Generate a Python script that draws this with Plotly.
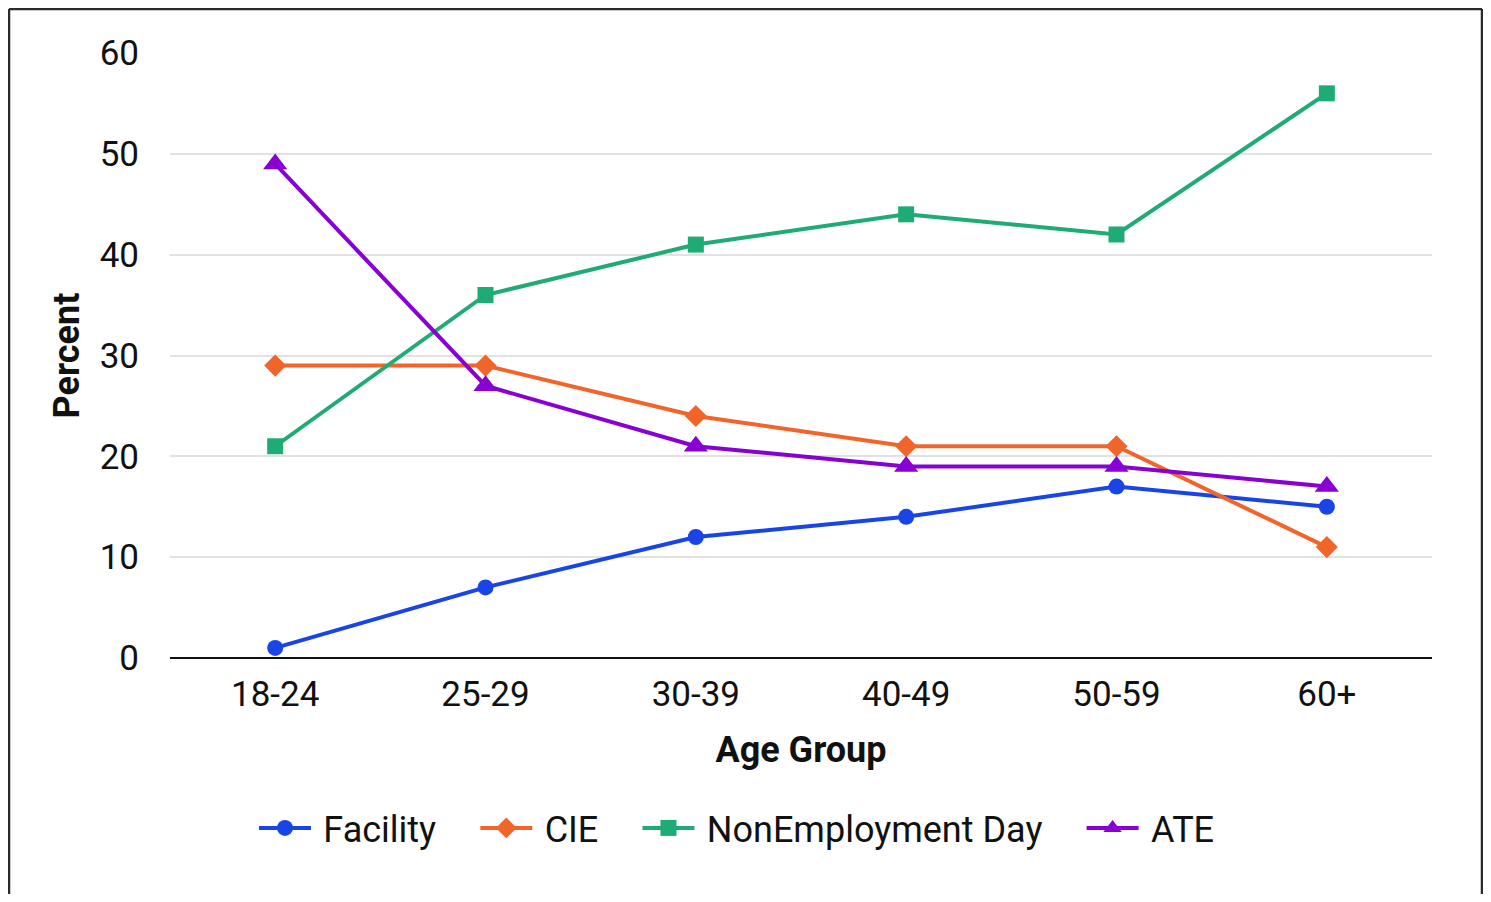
import plotly.graph_objects as go

# age groups on the x axis
age_groups = ['18-24', '25-29', '30-39', '40-49', '50-59', '60+']

# percent of people in each setting, by age group
facility = [1, 7, 12, 14, 17, 15]
cie = [29, 29, 24, 21, 21, 11]
non_employment_day = [21, 36, 41, 44, 42, 56]
ate = [49, 27, 21, 19, 19, 17]

# spacing tweaks for the legend labels
PRE = '\u2009'
POST = '\u00a0' * 3 + '\u2009'

series = [
    (PRE + 'Facility' + POST, facility, '#1a45e6', 'circle', 16),
    (PRE + 'CIE' + POST, cie, '#f2652a', 'diamond', 17),
    (PRE + 'NonEmployment Day' + POST, non_employment_day, '#1eab74', 'square', 16),
    (PRE + 'ATE', ate, '#8800d2', 'triangle-up', 21),
]

FONT = 'Roboto, Arial, sans-serif'
INK = '#111111'

fig = go.Figure()
for name, vals, color, symbol, size in series:
    fig.add_trace(go.Scatter(
        x=age_groups, y=vals, name=name, mode='lines+markers',
        line=dict(color=color, width=4),
        marker=dict(symbol=symbol, size=size, color=color),
    ))

# page has an 8px body margin, so the figure is a bit smaller than the window
W, H = 1475, 886
L, T = 162, 45
R, B = W - 1424, H - 650
pw, ph = W - L - R, H - T - B


def px_x(p):
    return (p - L) / pw


def px_y(p):
    return (H - B - p) / ph


# outer frame: left, top and right edges (bottom falls off the page)
frame = dict(color='#2b2a33', width=2.5)
for x0, y0, x1, y1 in [(1, 900, 1, 1), (1, 1, 1474, 1), (1474, 1, 1474, 900)]:
    fig.add_shape(type='line', xref='paper', yref='paper',
                  x0=px_x(x0), y0=px_y(y0), x1=px_x(x1), y1=px_y(y1), line=frame)

fig.update_layout(
    width=W, height=H,
    margin=dict(l=L, r=R, t=T, b=B),
    paper_bgcolor='white', plot_bgcolor='white',
    font=dict(family=FONT, size=35, color=INK),
    showlegend=True,
    legend=dict(orientation='h', x=px_x(729), xanchor='center',
                y=px_y(820), yanchor='middle',
                font=dict(size=36, color=INK),
                itemwidth=52, tracegroupgap=0),
    xaxis=dict(
        type='category', range=[-0.5, 5.5],
        showgrid=False, showline=False, zeroline=False,
        ticks='', ticklabelstandoff=12,
        tickfont=dict(size=35, color=INK),
        title=dict(text='<b>Age Group</b>', standoff=22,
                   font=dict(size=36, color=INK)),
    ),
    yaxis=dict(
        range=[0, 60], dtick=10,
        showgrid=True, gridcolor='#e2e2e2', gridwidth=1.5,
        zeroline=True, zerolinecolor=INK, zerolinewidth=2,
        showline=False, ticks='', ticklabelstandoff=30,
        tickfont=dict(size=35, color=INK),
        title=dict(text='<b>Percent</b>', standoff=9,
                   font=dict(size=36, color=INK)),
    ),
)

fig.write_html('out.html')
